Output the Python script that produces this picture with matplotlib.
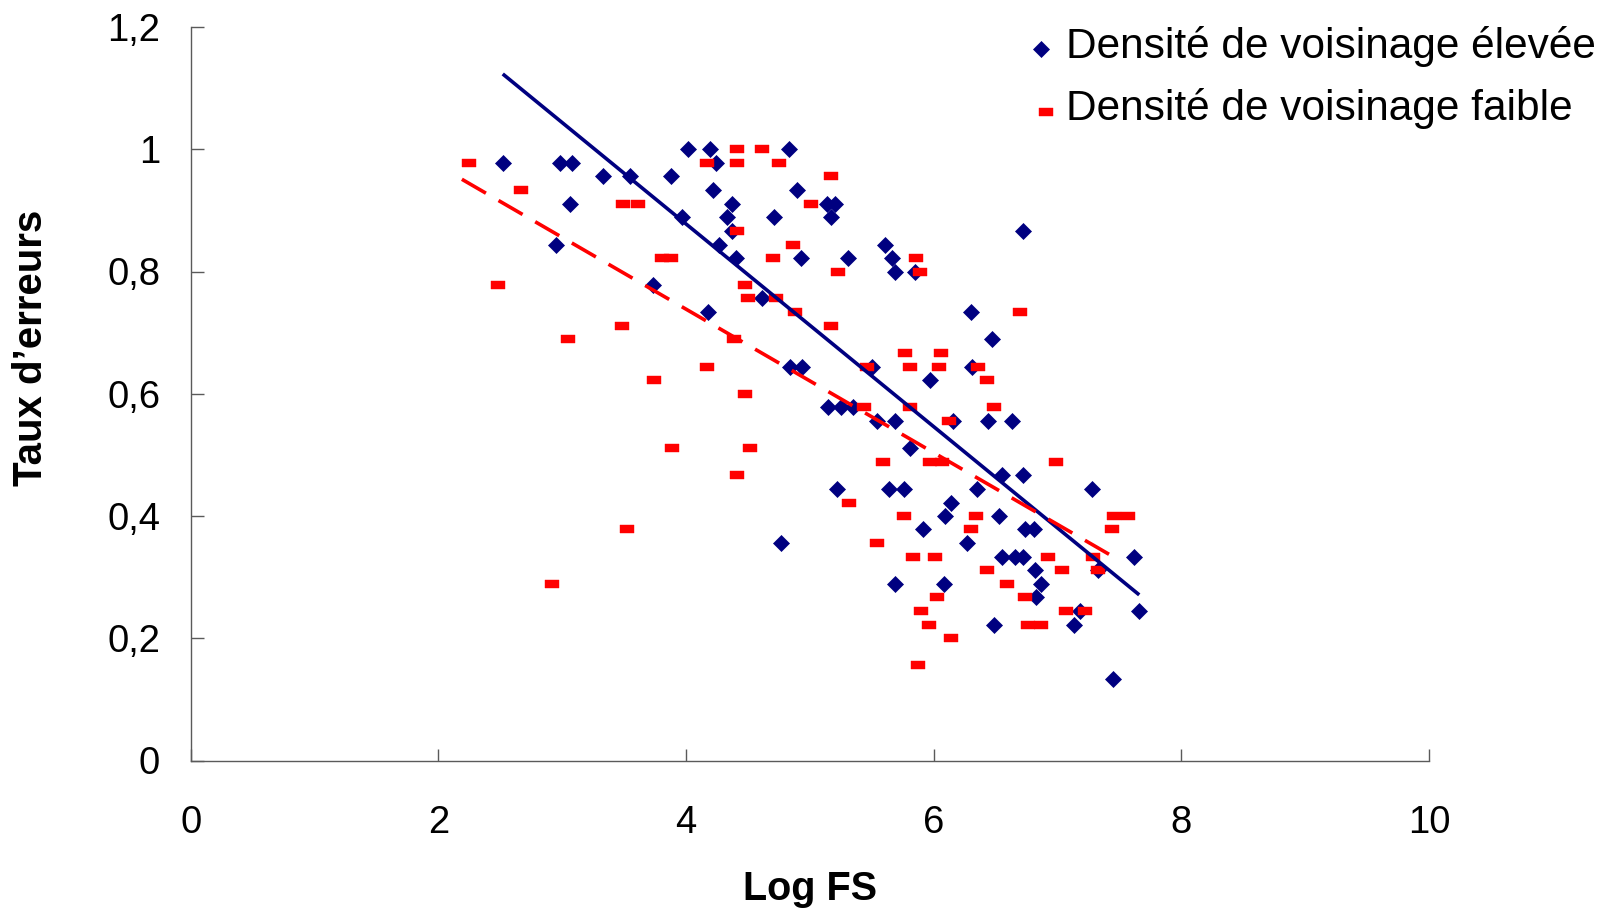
import numpy as np
import matplotlib
matplotlib.use('Agg')
import matplotlib.pyplot as plt
from matplotlib.lines import Line2D

plt.rcParams['font.family'] = ['Liberation Sans', 'DejaVu Sans']
plt.rcParams['lines.scale_dashes'] = False

# ---------------- data ----------------
high_x = [2.52, 2.98, 3.08, 3.06, 2.95, 3.33, 3.55, 3.73, 3.88, 3.97,
          4.02, 4.19, 4.24, 4.22, 4.27, 4.18, 4.33, 4.37, 4.37, 4.40,
          4.61, 4.71, 4.83, 4.90, 4.93, 4.84, 4.94, 4.77, 5.14, 5.20,
          5.17, 5.31, 5.15, 5.25, 5.35, 5.22, 5.50, 5.54, 5.61, 5.66,
          5.69, 5.85, 5.69, 5.64, 5.76, 5.69, 5.81, 5.91, 5.97, 6.09,
          6.14, 6.16, 6.08, 6.27, 6.30, 6.31, 6.35, 6.44, 6.47, 6.53,
          6.49, 6.55, 6.55, 6.63, 6.66, 6.72, 6.72, 6.72, 6.74, 6.81,
          6.82, 6.83, 6.87, 7.13, 7.18, 7.28, 7.33, 7.45, 7.62, 7.66]
high_y = [0.978, 0.978, 0.978, 0.911, 0.844, 0.956, 0.956, 0.778, 0.956, 0.889,
          1.000, 1.000, 0.978, 0.933, 0.844, 0.733, 0.889, 0.911, 0.867, 0.822,
          0.756, 0.889, 1.000, 0.933, 0.822, 0.644, 0.644, 0.356, 0.911, 0.911,
          0.889, 0.822, 0.578, 0.578, 0.578, 0.444, 0.644, 0.556, 0.844, 0.822,
          0.800, 0.800, 0.556, 0.444, 0.444, 0.289, 0.511, 0.378, 0.622, 0.400,
          0.422, 0.556, 0.289, 0.356, 0.733, 0.644, 0.444, 0.556, 0.689, 0.400,
          0.222, 0.333, 0.467, 0.556, 0.333, 0.333, 0.467, 0.867, 0.378, 0.378,
          0.311, 0.267, 0.289, 0.222, 0.244, 0.444, 0.311, 0.133, 0.333, 0.244]

low_x = [2.25, 2.48, 2.67, 2.92, 3.05, 3.49, 3.61, 3.48, 3.52, 3.74,
         3.81, 3.88, 3.89, 4.17, 4.17, 4.41, 4.61, 4.41, 4.75, 4.41,
         4.39, 4.41, 4.48, 4.50, 4.48, 4.52, 4.70, 4.73, 4.86, 4.88,
         5.01, 5.17, 5.17, 5.23, 5.32, 5.46, 5.44, 5.54, 5.59, 5.76,
         5.77, 5.81, 5.81, 5.83, 5.86, 5.89, 5.87, 5.90, 5.96, 6.01,
         5.97, 6.07, 6.04, 6.06, 6.03, 6.12, 6.14, 6.30, 6.34, 6.36,
         6.43, 6.43, 6.49, 6.59, 6.70, 6.74, 6.76, 6.87, 6.92, 6.99,
         7.04, 7.07, 7.22, 7.29, 7.33, 7.44, 7.46, 7.57]
low_y = [0.978, 0.778, 0.933, 0.289, 0.689, 0.911, 0.911, 0.711, 0.378, 0.622,
         0.822, 0.822, 0.511, 0.978, 0.644, 1.000, 1.000, 0.978, 0.978, 0.867,
         0.689, 0.467, 0.778, 0.756, 0.600, 0.511, 0.822, 0.756, 0.844, 0.733,
         0.911, 0.956, 0.711, 0.800, 0.422, 0.644, 0.578, 0.356, 0.489, 0.400,
         0.667, 0.644, 0.578, 0.333, 0.822, 0.800, 0.156, 0.244, 0.222, 0.333,
         0.489, 0.489, 0.644, 0.667, 0.267, 0.556, 0.200, 0.378, 0.400, 0.644,
         0.622, 0.311, 0.578, 0.289, 0.733, 0.267, 0.222, 0.222, 0.333, 0.489,
         0.311, 0.244, 0.244, 0.333, 0.311, 0.378, 0.400, 0.400]

# linear trend lines (slope, intercept)
high_trend = (-0.1658, 1.541)
low_trend = (-0.1174, 1.208)

x_ticks = [0, 2, 4, 6, 8, 10]
y_ticks = [0, 0.2, 0.4, 0.6, 0.8, 1.0, 1.2]
y_tick_labels = ['0', '0,2', '0,4', '0,6', '0,8', '1', '1,2']
label_high = 'Densité de voisinage élevée'
label_low = 'Densité de voisinage faible'

# ---------------- figure ----------------
W, H = 1602, 910
fig = plt.figure(figsize=(W / 100, H / 100), dpi=100)
x0, x1 = 190.7, 1429.0
yb, yt = 760.5, 27.0
ax = fig.add_axes([x0 / W, 1 - yb / H, (x1 - x0) / W, (yb - yt) / H])

NAVY = '#000080'
RED = '#FF0000'
rect = [(-1, -0.49), (1, -0.49), (1, 0.49), (-1, 0.49), (-1, -0.49)]

ax.plot(high_x, high_y, ls='none', marker='D', ms=8.3, mfc=NAVY, mec=NAVY,
        mew=0.5, zorder=3)
ax.plot(low_x, low_y, ls='none', marker=rect, ms=10.5, mfc=RED, mec=RED,
        mew=0.3, zorder=3)

hx = np.array([min(high_x), max(high_x)])
ax.plot(hx, high_trend[0] * hx + high_trend[1], color=NAVY, lw=2.6,
        solid_capstyle='butt', zorder=4)
lx = np.array([min(low_x) - 0.06, max(low_x) - 0.07])
ax.plot(lx, low_trend[0] * lx + low_trend[1], color=RED, lw=2.6,
        dashes=(20, 10.5), dash_capstyle='butt', zorder=4)

ax.set_xlim(0, 10)
ax.set_ylim(0, 1.2)
ax.set_xticks(x_ticks)
ax.set_xticklabels([str(v) for v in x_ticks])
ax.set_yticks(y_ticks)
ax.set_yticklabels(y_tick_labels)

for s in ('top', 'right'):
    ax.spines[s].set_visible(False)
AX_COL = '#5a5a5a'
for s in ('left', 'bottom'):
    ax.spines[s].set_color(AX_COL)
    ax.spines[s].set_linewidth(1.0)
ax.tick_params(axis='both', direction='in', color=AX_COL, width=1.0,
               labelsize=27.5, labelcolor='black')
ax.tick_params(axis='x', length=8.6, pad=32)
ax.tick_params(axis='y', length=9.4, pad=22)

ax.set_xlabel('Log FS', fontsize=28.5, fontweight='bold')
ax.xaxis.set_label_coords(0.5, (yb - 889) / (yb - yt))
ax.xaxis.label.set_va('center')
ax.set_ylabel('Taux d\u2019erreurs', fontsize=29, fontweight='bold')
ax.yaxis.set_label_coords((31 - x0) / (x1 - x0), (yb - 348) / (yb - yt))
ax.yaxis.label.set_va('center')

# legend (manually placed, upper right)
fig.add_artist(Line2D([1041 / W], [1 - 49 / H], transform=fig.transFigure,
                      ls='none', marker='D', ms=8.3, mfc=NAVY, mec=NAVY, mew=0.5))
fig.add_artist(Line2D([1046 / W], [1 - 112 / H], transform=fig.transFigure,
                      ls='none', marker=rect, ms=10.5, mfc=RED, mec=RED, mew=0.3))
fig.text(1066 / W, 1 - 58 / H, label_high, fontsize=30.5, va='baseline', ha='left')
fig.text(1066 / W, 1 - 120 / H, label_low, fontsize=30.5, va='baseline', ha='left')

fig.savefig('out.png', dpi=100)
